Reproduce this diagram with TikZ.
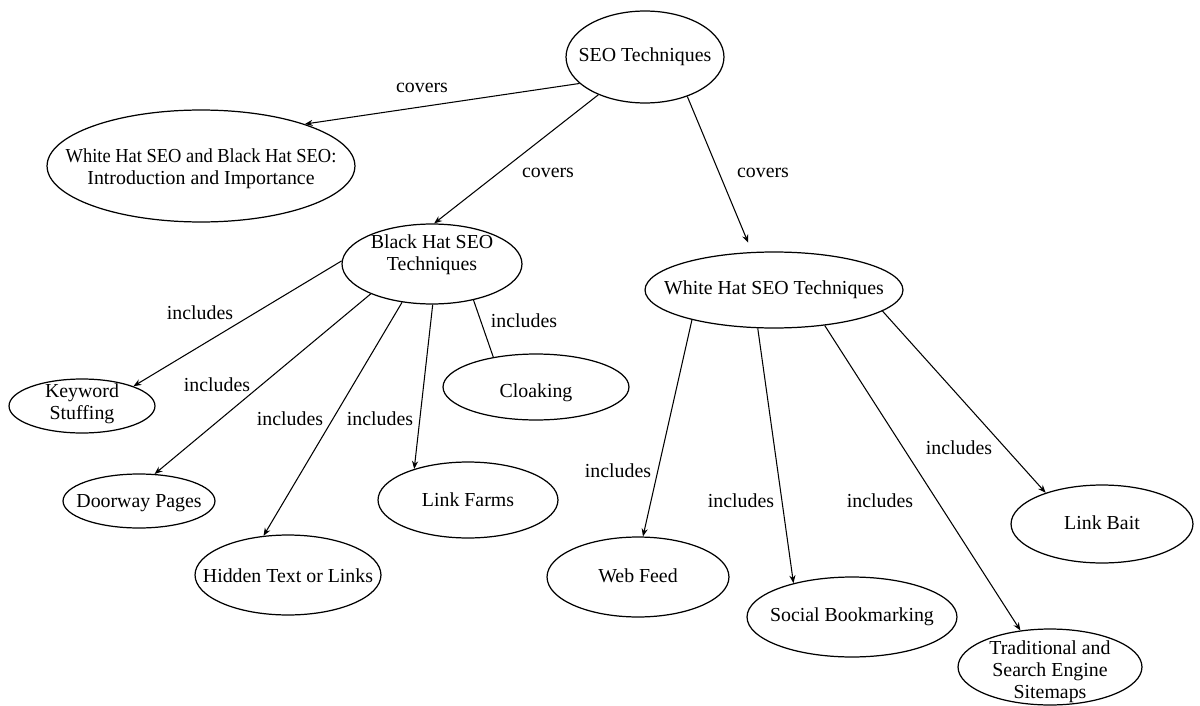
\documentclass[tikz,border=0pt]{standalone}
\usepackage{fontspec}
\setmainfont{Liberation Serif}
\usetikzlibrary{shapes.geometric,arrows.meta}

\newdimen\pxu
\pxu=0.02cm

\tikzset{
  bubble/.style={ellipse, draw, line width=0.7pt, inner xsep=-5cm, inner ysep=-5cm,
    font=\fontsize{11.3}{12.8}\selectfont},
  link/.style={line width=0.6pt, -{Stealth[length=4.5pt,width=3.5pt]}},
  plain/.style={line width=0.6pt},
  tag/.style={font=\fontsize{11.3}{12.8}\selectfont, inner sep=0pt}
}
% ellipse: name, centre x, centre y, half-axes, downward text offset, text
\newcommand{\bub}[7]{\node[bubble, minimum width=#4*0.04cm, minimum height=#5*0.04cm] (#1) at (#2,#3)
  {\raisebox{-#6\pxu}[\height][\depth]{\begin{tabular}{@{}c@{}}#7\end{tabular}}};}

\begin{document}
\begin{tikzpicture}[x=0.02cm, y=-0.02cm]
\useasboundingbox (0,0) rectangle (1200,706);

% concepts
\bub{seo}{645}{57}{79}{46}{0}{SEO Techniques}
\bub{intro}{201}{166}{154}{56}{3}{\scalebox{0.93}[1]{White Hat SEO and Black Hat SEO:}\\Introduction and Importance}
\bub{black}{432}{264}{90}{40}{-9}{Black Hat SEO\\Techniques}
\bub{white}{774}{290}{129}{38}{0}{White Hat SEO Techniques}
\bub{kw}{82}{406}{73}{27}{-2}{Keyword\\Stuffing}
\bub{cloak}{536}{387}{93}{33}{6}{Cloaking}
\bub{door}{139}{501}{76}{27}{2}{Doorway Pages}
\bub{farm}{468}{500}{90}{38}{2}{Link Farms}
\bub{hidden}{288}{575}{93}{40}{3}{Hidden Text or Links}
\bub{feed}{638}{577}{91}{40}{1}{Web Feed}
\bub{social}{852}{617}{105}{40}{0}{Social Bookmarking}
\bub{maps}{1050}{667}{92}{38}{5}{Traditional and\\Search Engine\\Sitemaps}
\bub{bait}{1102}{524}{91}{39}{1}{Link Bait}

% relations
\draw[link] (seo.202) -- (intro.22);
\draw[link] (seo.219) -- (black.87);
\draw[link, shorten >=0.2cm] (seo.-43) -- (white.120);

\draw[link] (black.178) -- (kw.21);
\draw[link] (black.206) -- (door.60);
\draw[link] (black.232) -- (hidden.122);
\draw[link] (black.271) -- (farm.150);
\draw[plain] (black.-41) -- (cloak.145);

\draw[link] (white.200) -- (feed.83);
\draw[link] (white.247) -- (social.150);
\draw[link] (white.-35) -- (maps.129);
\draw[link] (white.-11) -- (bait.151);

% relation names
\node[tag] (c1) at (422,88) {covers};
\node[tag] (c2) at (548,173) {covers};
\node[tag] (c3) at (763,173) {covers};
\node[tag] (i1) at (200,313) {includes};
\node[tag] (i2) at (217,385) {includes};
\node[tag] (i3) at (290,419) {includes};
\node[tag] (i4) at (380,419) {includes};
\node[tag] (i5) at (524,321) {includes};
\node[tag] (i6) at (618,471) {includes};
\node[tag] (i7) at (741,501) {includes};
\node[tag] (i8) at (880,501) {includes};
\node[tag] (i9) at (959,448) {includes};
\end{tikzpicture}
\end{document}
